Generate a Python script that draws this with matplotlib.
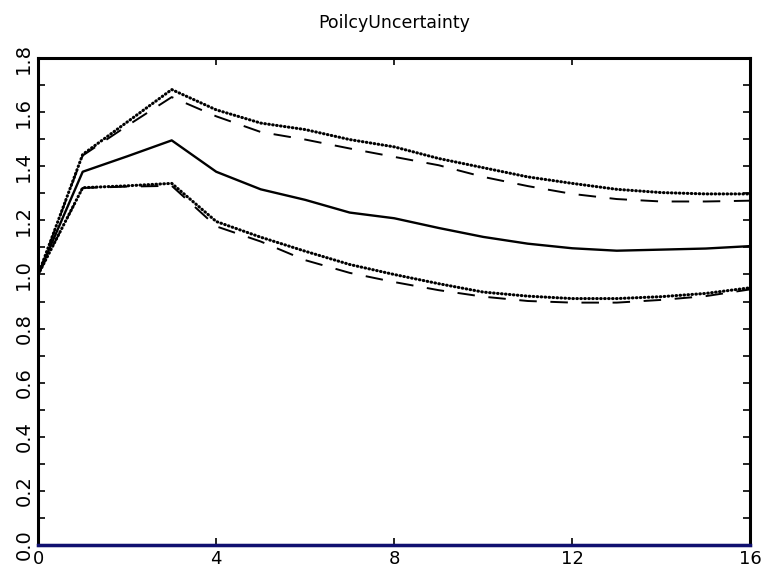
import matplotlib
matplotlib.use("Agg")
import matplotlib.pyplot as plt
from matplotlib.ticker import MultipleLocator, FormatStrFormatter

# impulse response, horizon 0..16
horizon = list(range(17))
median = [1.0, 1.38, 1.437, 1.496, 1.38, 1.315, 1.276, 1.229, 1.208, 1.172, 1.139,
          1.114, 1.097, 1.088, 1.092, 1.096, 1.105]
upper_dot = [1.0, 1.444, 1.564, 1.684, 1.609, 1.56, 1.536, 1.499, 1.472, 1.429, 1.395,
             1.361, 1.337, 1.315, 1.303, 1.298, 1.298]
upper_dash = [1.0, 1.44, 1.55, 1.656, 1.585, 1.527, 1.499, 1.466, 1.435, 1.404, 1.361,
              1.327, 1.298, 1.279, 1.270, 1.270, 1.273]
lower_dot = [1.0, 1.321, 1.328, 1.337, 1.196, 1.138, 1.086, 1.037, 1.0, 0.966, 0.935,
             0.92, 0.911, 0.911, 0.918, 0.930, 0.951]
lower_dash = [1.0, 1.32, 1.325, 1.328, 1.178, 1.122, 1.053, 1.006, 0.972, 0.942, 0.918,
              0.902, 0.896, 0.896, 0.906, 0.92, 0.945]

fig = plt.figure(figsize=(7.64, 5.76), dpi=100)
ax = fig.add_axes([0.05, 0.054, 0.932, 0.845])

ax.axhline(0, color="#101070", lw=2.5, zorder=5, clip_on=False)
ax.plot(horizon, median, color="black", lw=1.7)
ax.plot(horizon, upper_dash, color="black", lw=1.4, dashes=(9, 7))
ax.plot(horizon, lower_dash, color="black", lw=1.4, dashes=(9, 7))
dotted = dict(color="black", lw=2.2, linestyle=(0, (0.2, 1.1)), dash_capstyle="round")
ax.plot(horizon, upper_dot, **dotted)
ax.plot(horizon, lower_dot, **dotted)

ax.set_xlim(0, 16)
ax.set_ylim(0, 1.8)
ax.xaxis.set_major_locator(MultipleLocator(4))
ax.yaxis.set_major_locator(MultipleLocator(0.2))
ax.yaxis.set_minor_locator(MultipleLocator(0.1))
ax.yaxis.set_major_formatter(FormatStrFormatter("%.1f"))

ax.tick_params(which="both", direction="in", top=True, right=True, width=1.2)
ax.tick_params(which="major", length=5, labelsize=13)
ax.tick_params(axis="y", labelsize=14)
ax.tick_params(which="minor", length=5)
for lbl in ax.get_yticklabels():
    lbl.set_rotation(90)
    lbl.set_va("center")
for s in ax.spines.values():
    s.set_linewidth(2.2)

ax.set_title("PoilcyUncertainty", fontsize=12.5, pad=22)

fig.savefig("out.png", dpi=100)
